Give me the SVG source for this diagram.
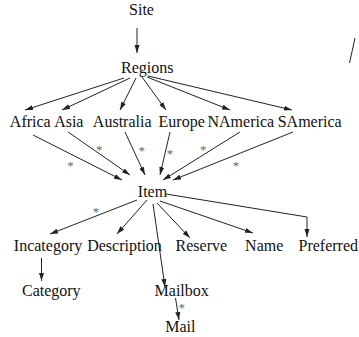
<svg xmlns="http://www.w3.org/2000/svg" width="359" height="337" viewBox="0 0 359 337">
<defs>
<style>
text{font-family:"Liberation Serif","Times New Roman",serif;font-size:16px;fill:#111;text-anchor:middle}
text.star{fill:#666;font-size:13px}
.e line,.e polyline{stroke:#222;stroke-width:1;fill:none}
</style>
<marker id="ah" markerUnits="userSpaceOnUse" markerWidth="9" markerHeight="6" refX="8" refY="3" orient="auto">
<path d="M0,0.5 L8,3 L0,5.5 z" fill="#222"/>
</marker>
</defs>
<rect width="359" height="337" fill="#fff"/>
<g id="connectors" class="e">
<line x1="137" y1="28" x2="137" y2="53" marker-end="url(#ah)"/>
<line x1="124" y1="78" x2="25" y2="110" marker-end="url(#ah)"/>
<line x1="130" y1="78" x2="62" y2="110" marker-end="url(#ah)"/>
<line x1="136" y1="78" x2="120" y2="110" marker-end="url(#ah)"/>
<line x1="142" y1="77" x2="166" y2="110" marker-end="url(#ah)"/>
<line x1="147" y1="77" x2="230" y2="110" marker-end="url(#ah)"/>
<line x1="148" y1="76" x2="292" y2="110" marker-end="url(#ah)"/>
<line x1="33" y1="135" x2="122" y2="180" marker-end="url(#ah)"/>
<line x1="68" y1="132" x2="130" y2="175" marker-end="url(#ah)"/>
<line x1="125" y1="132" x2="145" y2="175" marker-end="url(#ah)"/>
<line x1="170" y1="132" x2="160" y2="175" marker-end="url(#ah)"/>
<line x1="240" y1="132" x2="163" y2="180" marker-end="url(#ah)"/>
<line x1="293" y1="132" x2="173" y2="180" marker-end="url(#ah)"/>
<line x1="137" y1="200" x2="50" y2="234" marker-end="url(#ah)"/>
<line x1="147" y1="200" x2="117" y2="234" marker-end="url(#ah)"/>
<line x1="153" y1="204" x2="165" y2="287" marker-end="url(#ah)"/>
<line x1="157" y1="203" x2="190" y2="238" marker-end="url(#ah)"/>
<line x1="160" y1="201" x2="253" y2="233" marker-end="url(#ah)"/>
<polyline points="166,194 307,217 307,237" marker-end="url(#ah)"/>
<line x1="41.5" y1="258" x2="41.5" y2="281" marker-end="url(#ah)"/>
<line x1="175.5" y1="298" x2="179" y2="320" marker-end="url(#ah)"/>
<line x1="355" y1="38" x2="349.5" y2="63"/>
</g>
<g id="stars">
<text class="star" x="70.5" y="170">*</text>
<text class="star" x="99.3" y="153.5">*</text>
<text class="star" x="141.7" y="154.5">*</text>
<text class="star" x="170" y="158">*</text>
<text class="star" x="203.3" y="153.5">*</text>
<text class="star" x="236" y="169.5">*</text>
<text class="star" x="96" y="216">*</text>
<text class="star" x="181.7" y="312">*</text>
</g>
<g id="site"><text x="141.5" y="15">Site</text></g>
<g id="regions"><text x="147.3" y="73">Regions</text></g>
<g id="africa"><text x="30.3" y="127">Africa</text></g>
<g id="asia"><text x="68.8" y="127">Asia</text></g>
<g id="australia"><text x="122.2" y="127">Australia</text></g>
<g id="europe"><text x="181.7" y="127">Europe</text></g>
<g id="namerica"><text x="240.8" y="127">NAmerica</text></g>
<g id="samerica"><text x="309.7" y="127">SAmerica</text></g>
<g id="item"><text x="152.5" y="197">Item</text></g>
<g id="incategory"><text x="48" y="250.5">Incategory</text></g>
<g id="description"><text x="124.5" y="250.5">Description</text></g>
<g id="reserve"><text x="201.3" y="250.5">Reserve</text></g>
<g id="name"><text x="264.2" y="250.5">Name</text></g>
<g id="preferred"><text x="328.3" y="250.5">Preferred</text></g>
<g id="category"><text x="51.3" y="295.5">Category</text></g>
<g id="mailbox"><text x="181.7" y="295.5">Mailbox</text></g>
<g id="mail"><text x="180.3" y="331.5">Mail</text></g>
</svg>
